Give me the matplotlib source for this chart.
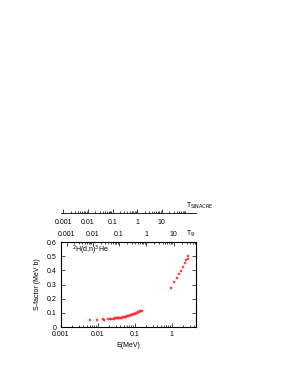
import numpy as np
import matplotlib
matplotlib.use("Agg")
import matplotlib.pyplot as plt

plt.rcParams['font.family'] = ['Liberation Sans', 'DejaVu Sans']
plt.rcParams['font.size'] = 5

# 2H(d,n)3He S-factor data
E_low = [0.0061, 0.0096, 0.0139, 0.0142, 0.019, 0.021, 0.023, 0.025, 0.027,
         0.029, 0.031, 0.033, 0.035, 0.037, 0.040, 0.042, 0.045, 0.048,
         0.051, 0.055, 0.058, 0.062, 0.066, 0.070, 0.075, 0.080, 0.085,
         0.090, 0.096, 0.102, 0.108, 0.115, 0.122, 0.130, 0.138, 0.146, 0.155]
S_low = [0.050, 0.053, 0.055, 0.050, 0.057, 0.058, 0.056, 0.060, 0.059,
         0.061, 0.062, 0.061, 0.064, 0.063, 0.065, 0.066, 0.067, 0.068,
         0.070, 0.071, 0.073, 0.075, 0.077, 0.079, 0.082, 0.084, 0.087,
         0.089, 0.092, 0.095, 0.098, 0.101, 0.104, 0.107, 0.110, 0.113, 0.116]
E_high = [0.95, 1.13, 1.36, 1.58, 1.77, 2.0, 2.24, 2.47, 2.65, 2.8]
S_high = [0.277, 0.315, 0.348, 0.372, 0.397, 0.426, 0.452, 0.473, 0.482, 0.503]

xticks = [0.001, 0.01, 0.1, 1]
xticklabels = ['0.001', '0.01', '0.1', '1']
yticks = [0, 0.1, 0.2, 0.3, 0.4, 0.5, 0.6]
t9_vals = [0.001, 0.01, 0.1, 1, 10]
t9_labels = ['0.001', '0.01', '0.1', '1', '10']


def e_sinacre(t9):
    # Gamow peak energy
    return 0.115 * np.asarray(t9, dtype=float) ** (2 / 3)


def e_t9(t9):
    t9 = np.asarray(t9, dtype=float)
    return 0.115 * t9 ** (2 / 3) + 0.085 * t9 ** (5 / 6)


xmin, xmax = 0.001, 4.5
t9_minor = [k * 10.0 ** n for n in range(-3, 2) for k in range(2, 10)]

fig = plt.figure(figsize=(2.91, 3.76), dpi=100)
ax = fig.add_axes([0.2096, 0.1303, 0.464, 0.226])

pt = dict(marker='s', ls='none', color='#ff3030', ms=1.6, mew=0.3, alpha=0.85)
ax.plot(E_low, S_low, **pt)
ax.plot(E_high, S_high, **pt)
ax.errorbar([0.0142], [0.050], yerr=[0.006], fmt='none', ecolor='#ff3030', elinewidth=0.5)

ax.set_xscale('log')
ax.set_xlim(xmin, xmax)
ax.set_ylim(0, 0.6)
ax.set_xticks(xticks)
ax.set_xticklabels(xticklabels)
ax.set_yticks(yticks)
ax.set_yticklabels(['0', '0.1', '0.2', '0.3', '0.4', '0.5', '0.6'])
ax.tick_params(which='both', direction='in', width=0.5, pad=3)
ax.tick_params(which='major', length=3, right=True)
ax.tick_params(which='minor', length=1.5)
ax.tick_params(axis='x', which='both', top=False)
for s in ax.spines.values():
    s.set_linewidth(0.6)
ax.set_xlabel('E(MeV)', labelpad=3)
ax.set_ylabel('S-factor (MeV b)', labelpad=4)
ax.text(0.08, 0.88, r'$^2$H(d,n)$^3$He', transform=ax.transAxes)

# T9 axis on top of the main plot
axt = ax.twiny()
axt.set_xscale('log')
axt.set_xlim(xmin, xmax)
axt.set_xticks(e_t9(t9_vals))
axt.set_xticklabels(t9_labels)
m = e_t9(t9_minor)
axt.set_xticks(m[(m > xmin) & (m < xmax)], minor=True)
axt.tick_params(which='both', direction='in', width=0.5, pad=3)
axt.tick_params(which='major', length=3)
axt.tick_params(which='minor', length=1.5, labeltop=False)
axt.text(0.96, 1.09, r'T$_9$', transform=ax.transAxes, ha='center', va='center')

# separate T_SINACRE axis above
axs = fig.add_axes([0.2096, 0.4335, 0.464, 0.0001])
axs.set_xscale('log')
axs.set_xlim(xmin, xmax)
axs.set_yticks([])
for k in ['left', 'right', 'top']:
    axs.spines[k].set_visible(False)
axs.spines['bottom'].set_linewidth(0.6)
axs.patch.set_visible(False)
axs.set_xticks(e_sinacre(t9_vals))
axs.set_xticklabels(t9_labels)
m = e_sinacre(t9_minor)
axs.set_xticks(m[(m > xmin) & (m < xmax)], minor=True)
axs.tick_params(which='both', direction='in', width=0.5, pad=4)
axs.tick_params(which='major', length=3)
axs.tick_params(which='minor', length=1.5, labelbottom=False)
fig.text(0.64, 0.438, r'T$_{\rm SINACRE}$', ha='left', va='bottom')

fig.savefig('out.png', dpi=100)
